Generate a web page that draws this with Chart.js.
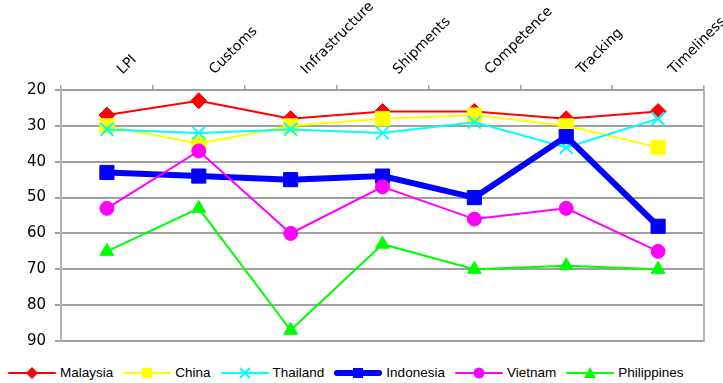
<!DOCTYPE html>
<html>
<head>
<meta charset="utf-8">
<script src="https://cdn.jsdelivr.net/npm/chart.js@4.4.1/dist/chart.umd.min.js"></script>
<style>
  html, body { margin: 0; padding: 0; background: #fff; }
  #wrap { position: relative; width: 723px; height: 383px; overflow: hidden; }
  #lpiChart { display: block; }
  #legend { display: flex; align-items: center; padding-left: 7px; height: 21px; font: 13.5px "Liberation Sans", Arial, sans-serif; color: #000; white-space: nowrap; }
  #legend .item { display: flex; align-items: center; margin-right: 9px; }
  #legend svg { margin-right: 3px; }
</style>
</head>
<body>
<div id="wrap">
  <canvas id="lpiChart" width="723" height="362"></canvas>
  <div id="legend"></div>
</div>
<script>
const categories = ['LPI', 'Customs', 'Infrastructure', 'Shipments', 'Competence', 'Tracking', 'Timeliness'];
const yTicks = [20, 30, 40, 50, 60, 70, 80, 90];
const malaysia = [27, 23, 28, 26, 26, 28, 26];
const china = [30, 35, 30, 28, 27, 30, 36];
const thailand = [31, 32, 31, 32, 29, 36, 28];
const indonesia = [43, 44, 45, 44, 50, 33, 58];
const vietnam = [53, 37, 60, 47, 56, 53, 65];
const philippines = [65, 53, 87, 63, 70, 69, 70];

const seriesNames = ['Malaysia', 'China', 'Thailand', 'Indonesia', 'Vietnam', 'Philippines'];
const seriesData = [malaysia, china, thailand, indonesia, vietnam, philippines];
const seriesColors = ['#ff0000', '#ffff00', '#00ffff', '#0000ff', '#ff00ff', '#00ff00'];
const seriesMarkers = ['rectRot', 'rect', 'crossRot', 'rect', 'circle', 'triangle'];
const seriesWidths = [2, 2, 2, 6, 2, 2];
const seriesRadius = [8, 10, 9, 10, 7, 8];

const gridGray = '#a0a0a0';
const axisGray = '#b4b4b4';

const datasets = seriesNames.map((name, i) => ({
  label: name,
  data: seriesData[i],
  borderColor: seriesColors[i],
  backgroundColor: seriesColors[i],
  borderWidth: seriesWidths[i],
  pointStyle: seriesMarkers[i],
  pointRadius: seriesRadius[i],
  pointBorderWidth: seriesMarkers[i] === 'crossRot' ? 2 : 1,
  pointBorderColor: seriesColors[i],
  pointBackgroundColor: seriesColors[i],
  tension: 0,
  order: seriesNames.length - i
}));

// right edge of the plot frame
const frameRight = {
  id: 'frameRight',
  afterDraw(chart) {
    const { ctx, chartArea } = chart;
    ctx.save();
    ctx.strokeStyle = axisGray;
    ctx.lineWidth = 2;
    ctx.beginPath();
    ctx.moveTo(chartArea.right, chartArea.top);
    ctx.lineTo(chartArea.right, chartArea.bottom + 1);
    ctx.stroke();
    ctx.restore();
  }
};

new Chart(document.getElementById('lpiChart'), {
  type: 'line',
  data: { labels: categories, datasets },
  plugins: [frameRight],
  options: {
    responsive: false,
    animation: false,
    layout: { padding: { left: 0, right: 19, top: 0, bottom: 21 } },
    plugins: { legend: { display: false }, tooltip: { enabled: false } },
    scales: {
      x: {
        position: 'top',
        offset: true,
        grid: { drawOnChartArea: false, drawTicks: true, tickLength: 5, color: gridGray, lineWidth: 1.5, offset: true },
        border: { color: gridGray, width: 2 },
        ticks: {
          color: '#000', font: { family: 'DejaVu Sans', size: 14 },
          minRotation: 45, maxRotation: 45, autoSkip: false, padding: 7, labelOffset: 25
        },
        afterFit(scale) { scale.height = 90; scale.paddingLeft = 0; scale.paddingRight = 0; }
      },
      y: {
        reverse: true,
        min: 20,
        max: 90,
        afterBuildTicks(scale) { scale.ticks = yTicks.map(v => ({ value: v })); },
        grid: { color: gridGray, lineWidth: 2, tickLength: 6 },
        border: { color: axisGray, width: 2 },
        ticks: { color: '#000', font: { family: 'DejaVu Sans', size: 15 }, padding: 9 },
        afterFit(scale) { scale.width = 61; }
      }
    }
  }
});

// legend: line with marker, then name
function markerSvg(i) {
  const c = seriesColors[i];
  const cx = 25, cy = 8;
  let m = '';
  if (seriesMarkers[i] === 'rectRot') m = `<polygon points="${cx},${cy - 6} ${cx + 6},${cy} ${cx},${cy + 6} ${cx - 6},${cy}" fill="${c}"/>`;
  if (seriesMarkers[i] === 'rect') m = `<rect x="${cx - 5}" y="${cy - 5}" width="10" height="10" fill="${c}"/>`;
  if (seriesMarkers[i] === 'crossRot') m = `<path d="M${cx - 5} ${cy - 5}L${cx + 5} ${cy + 5}M${cx + 5} ${cy - 5}L${cx - 5} ${cy + 5}" stroke="${c}" stroke-width="2"/>`;
  if (seriesMarkers[i] === 'circle') m = `<circle cx="${cx}" cy="${cy}" r="5.5" fill="${c}"/>`;
  if (seriesMarkers[i] === 'triangle') m = `<polygon points="${cx},${cy - 6} ${cx + 6},${cy + 5} ${cx - 6},${cy + 5}" fill="${c}"/>`;
  const w = seriesWidths[i] > 2 ? 6 : 2;
  return `<svg width="50" height="16"><line x1="${w / 2 + 1}" y1="${cy}" x2="${49 - w / 2}" y2="${cy}" stroke="${c}" stroke-width="${w}" stroke-linecap="round"/>${m}</svg>`;
}

document.getElementById('legend').innerHTML = seriesNames.map((n, i) =>
  `<div class="item">${markerSvg(i)}<span>${n}</span></div>`).join('');
</script>
</body>
</html>
